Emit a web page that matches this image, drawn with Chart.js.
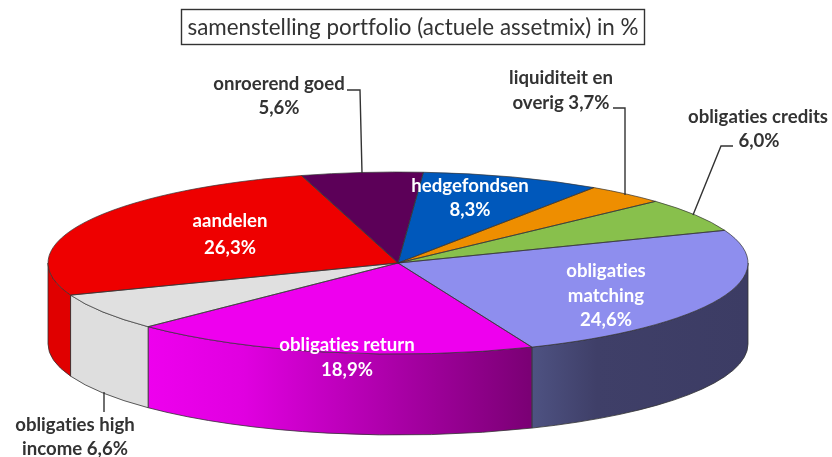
<!DOCTYPE html>
<html>
<head>
<meta charset="utf-8">
<title>samenstelling portfolio</title>
<script src="https://cdn.jsdelivr.net/npm/chart.js@4/dist/chart.umd.min.js"></script>
<style>
  html, body { margin: 0; padding: 0; background: #fff; }
  canvas { display: block; }
</style>
</head>
<body>
<canvas id="pie" width="832" height="457"></canvas>
<script>
const titleText = 'samenstelling portfolio (actuele assetmix) in %'
const categories = ['onroerend goed', 'hedgefondsen', 'liquiditeit en overig', 'obligaties credits',
  'obligaties matching', 'obligaties return', 'obligaties high income', 'aandelen']
const shares = [5.6, 8.3, 3.7, 6.0, 24.6, 18.9, 6.6, 26.3]

const topColors = ['#5c0058', '#0058bb', '#ee8e00', '#88c04c', '#8e8eee', '#ee00ee', '#e0e0e0', '#ee0000']
const wallStops = [
  null, null, null, null,
  [[0, '#4e5282'], [0.3, '#3f3f68'], [1, '#3c3c64']],
  [[0, '#ee00ee'], [0.25, '#e000e0'], [1, '#7a0074']],
  [[0, '#dedede'], [1, '#dedede']],
  [[0, '#e00000'], [1, '#e00000']],
]

// [text, centre x, baseline y, colour]
const labels = [
  ['onroerend goed', 279, 90, '#333'], ['5,6%', 279, 114, '#333'],
  ['liquiditeit en', 561, 84, '#333'], ['overig 3,7%', 561, 109, '#333'],
  ['obligaties credits', 758, 123, '#333'], ['6,0%', 759, 147, '#333'],
  ['hedgefondsen', 470, 192, '#fff'], ['8,3%', 470, 216, '#fff'],
  ['aandelen', 230, 227, '#fff'], ['26,3%', 230, 254, '#fff'],
  ['obligaties', 606, 277, '#fff'], ['matching', 606, 302, '#fff'], ['24,6%', 606, 326, '#fff'],
  ['obligaties return', 347, 351, '#fff'], ['18,9%', 347, 376, '#fff'],
  ['obligaties high', 75, 431, '#333'], ['income 6,6%', 75, 455, '#333'],
]

const leaders = [
  [[347, 90], [360, 90], [362, 173]],
  [[613, 108], [625, 108], [625, 195]],
  [[733, 146], [721, 146], [693, 215]],
  [[104, 392], [104, 412]],
]

const pieX = 398, pieY = 263, radiusX = 350, radiusY = 91, depth = 81
const lineColor = '#333'

function squash(ctx, arc) {
  ctx.translate(pieX, pieY)
  ctx.scale(radiusX / arc.outerRadius, radiusY / arc.outerRadius)
  ctx.translate(-arc.x, -arc.y)
}

function frontPart(start, end) {
  // the part of a slice that lies on the near half of the ellipse
  for (const turn of [0, -2 * Math.PI, 2 * Math.PI]) {
    const a = Math.max(start + turn, 0)
    const b = Math.min(end + turn, Math.PI)
    if (b > a) return [a, b]
  }
  return null
}

const pie3d = {
  id: 'pie3d',
  beforeDatasetsDraw(chart) {
    const ctx = chart.ctx
    chart.getDatasetMeta(0).data.forEach((arc, i) => {
      const part = frontPart(arc.startAngle, arc.endAngle)
      if (!part) return
      const x0 = pieX + radiusX * Math.cos(part[1])
      const x1 = pieX + radiusX * Math.cos(part[0])
      const grad = ctx.createLinearGradient(x0, 0, x1, 0)
      wallStops[i].forEach(s => grad.addColorStop(s[0], s[1]))

      ctx.beginPath()
      ctx.ellipse(pieX, pieY, radiusX, radiusY, 0, part[0], part[1])
      ctx.ellipse(pieX, pieY + depth, radiusX, radiusY, 0, part[1], part[0], true)
      ctx.closePath()
      ctx.fillStyle = grad
      ctx.fill()
      ctx.strokeStyle = lineColor
      ctx.lineWidth = 0.8
      ctx.stroke()
    })
    ctx.save()
    squash(ctx, chart.getDatasetMeta(0).data[0])
  },
  afterDatasetsDraw(chart) {
    const ctx = chart.ctx
    ctx.restore()

    // slice outlines, drawn outside the squash so the line width stays even
    chart.getDatasetMeta(0).data.forEach(arc => {
      const a = arc.startAngle, b = arc.endAngle
      ctx.beginPath()
      ctx.moveTo(pieX, pieY)
      ctx.ellipse(pieX, pieY, radiusX, radiusY, 0, a, b)
      ctx.closePath()
      ctx.strokeStyle = lineColor
      ctx.lineWidth = 0.7
      ctx.stroke()
    })
  },
  afterDraw(chart) {
    const ctx = chart.ctx
    ctx.save()

    ctx.strokeStyle = lineColor
    ctx.lineWidth = 1.4
    leaders.forEach(line => {
      ctx.beginPath()
      line.forEach((p, i) => i ? ctx.lineTo(p[0], p[1]) : ctx.moveTo(p[0], p[1]))
      ctx.stroke()
    })

    ctx.strokeRect(181.5, 9.5, 463, 35)
    ctx.textAlign = 'center'
    ctx.fillStyle = '#333'
    ctx.font = '22.4px Lato'
    ctx.letterSpacing = '0.01px' // keeps the "ti" ligature out
    ctx.fillText(titleText, 413, 35)

    ctx.font = 'bold 18.6px Lato'
    labels.forEach(l => {
      ctx.fillStyle = l[3]
      ctx.fillText(l[0], l[1], l[2])
    })
    ctx.restore()
  }
}

new Chart(document.getElementById('pie'), {
  type: 'pie',
  data: {
    labels: categories,
    datasets: [{ data: shares, backgroundColor: topColors, borderWidth: 0 }]
  },
  options: {
    responsive: false,
    animation: false,
    rotation: -16,
    plugins: {
      legend: { display: false },
      tooltip: { enabled: false }
    }
  },
  plugins: [pie3d]
})
</script>
</body>
</html>
